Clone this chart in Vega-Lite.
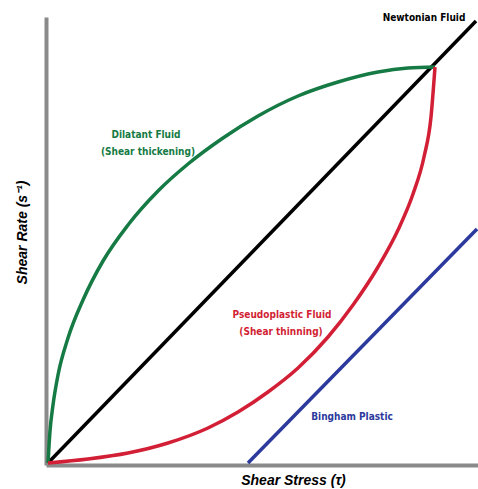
{
  "$schema": "https://vega.github.io/schema/vega-lite/v6.json",
  "autosize": "none",
  "width": 430,
  "height": 444,
  "padding": {"left": 48, "top": 19, "right": 0, "bottom": 26},
  "background": "white",
  "config": {"view": {"stroke": null}},
  "datasets": {
    "curves": [
      {"series": "Newtonian", "x": 0, "y": 0},
      {"series": "Newtonian", "x": 428, "y": 442},
      {"series": "Bingham", "x": 200, "y": 0},
      {"series": "Bingham", "x": 429, "y": 234},
      {"series": "Dilatant", "x": 0, "y": 0},
      {"series": "Dilatant", "x": 2, "y": 32},
      {"series": "Dilatant", "x": 5, "y": 58},
      {"series": "Dilatant", "x": 10, "y": 88},
      {"series": "Dilatant", "x": 20, "y": 125},
      {"series": "Dilatant", "x": 35, "y": 163},
      {"series": "Dilatant", "x": 55, "y": 202},
      {"series": "Dilatant", "x": 80, "y": 238},
      {"series": "Dilatant", "x": 110, "y": 272},
      {"series": "Dilatant", "x": 140, "y": 299},
      {"series": "Dilatant", "x": 175, "y": 325},
      {"series": "Dilatant", "x": 210, "y": 347},
      {"series": "Dilatant", "x": 250, "y": 367},
      {"series": "Dilatant", "x": 290, "y": 381},
      {"series": "Dilatant", "x": 330, "y": 391},
      {"series": "Dilatant", "x": 360, "y": 395},
      {"series": "Dilatant", "x": 387, "y": 396},
      {"series": "Pseudoplastic", "x": 0, "y": 0},
      {"series": "Pseudoplastic", "x": 40, "y": 4},
      {"series": "Pseudoplastic", "x": 80, "y": 10},
      {"series": "Pseudoplastic", "x": 120, "y": 20},
      {"series": "Pseudoplastic", "x": 160, "y": 35},
      {"series": "Pseudoplastic", "x": 190, "y": 51},
      {"series": "Pseudoplastic", "x": 220, "y": 71},
      {"series": "Pseudoplastic", "x": 250, "y": 95},
      {"series": "Pseudoplastic", "x": 280, "y": 126},
      {"series": "Pseudoplastic", "x": 305, "y": 158},
      {"series": "Pseudoplastic", "x": 330, "y": 196},
      {"series": "Pseudoplastic", "x": 350, "y": 233},
      {"series": "Pseudoplastic", "x": 365, "y": 269},
      {"series": "Pseudoplastic", "x": 376, "y": 306},
      {"series": "Pseudoplastic", "x": 383, "y": 346},
      {"series": "Pseudoplastic", "x": 387, "y": 396}
    ],
    "labels": [
      {"series": "Newtonian", "text": "Newtonian Fluid", "x": 376, "y": 445},
      {"series": "Dilatant", "text": "Dilatant Fluid", "x": 98, "y": 328},
      {"series": "Dilatant", "text": "(Shear thickening)", "x": 100, "y": 311},
      {"series": "Pseudoplastic", "text": "Pseudoplastic Fluid", "x": 234, "y": 148},
      {"series": "Pseudoplastic", "text": "(Shear thinning)", "x": 233, "y": 131},
      {"series": "Bingham", "text": "Bingham Plastic", "x": 304, "y": 46}
    ]
  },
  "layer": [
    {
      "data": {"name": "curves"},
      "mark": {"type": "line", "strokeWidth": 3.5, "interpolate": "monotone", "clip": false, "strokeCap": "butt"},
      "encoding": {
        "x": {
          "field": "x", "type": "quantitative",
          "scale": {"domain": [0, 430], "nice": false, "zero": false},
          "axis": {
            "title": "Shear Stress (τ)",
            "grid": false, "ticks": false, "labels": false,
            "domainColor": "#8a8a8a", "domainWidth": 4, "domainCap": "square",
            "offset": 2,
            "titleFont": "Liberation Sans", "titleFontSize": 14, "titleFontWeight": "bold", "titleFontStyle": "italic",
            "titleColor": "#000000",
            "titleX": 245, "titleY": 15, "titleBaseline": "middle", "titleAlign": "center"
          }
        },
        "y": {
          "field": "y", "type": "quantitative",
          "scale": {"domain": [0, 444], "nice": false, "zero": false},
          "axis": {
            "title": "Shear Rate (s⁻¹)",
            "grid": false, "ticks": false, "labels": false,
            "domainColor": "#8a8a8a", "domainWidth": 4, "domainCap": "square",
            "offset": 2,
            "titleFont": "Liberation Sans", "titleFontSize": 14, "titleFontWeight": "bold", "titleFontStyle": "italic",
            "titleColor": "#000000",
            "titleX": -24, "titleY": 213, "titleBaseline": "middle", "titleAlign": "center", "titleAngle": -90
          }
        },
        "detail": {"field": "series"},
        "color": {
          "field": "series", "type": "nominal", "legend": null,
          "scale": {"domain": ["Newtonian", "Dilatant", "Pseudoplastic", "Bingham"], "range": ["#000000", "#157a44", "#d21f35", "#2b3a9c"]}
        }
      }
    },
    {
      "data": {"name": "labels"},
      "mark": {"type": "text", "font": "'DejaVu Sans Condensed', 'Liberation Sans', sans-serif", "fontSize": 10, "fontWeight": "bold", "align": "center", "baseline": "middle", "clip": false},
      "encoding": {
        "x": {"field": "x", "type": "quantitative"},
        "y": {"field": "y", "type": "quantitative"},
        "text": {"field": "text"},
        "color": {
          "field": "series", "type": "nominal", "legend": null,
          "scale": {"domain": ["Newtonian", "Dilatant", "Pseudoplastic", "Bingham"], "range": ["#222222", "#157a44", "#d21f35", "#2b3a9c"]}
        }
      }
    }
  ]
}
